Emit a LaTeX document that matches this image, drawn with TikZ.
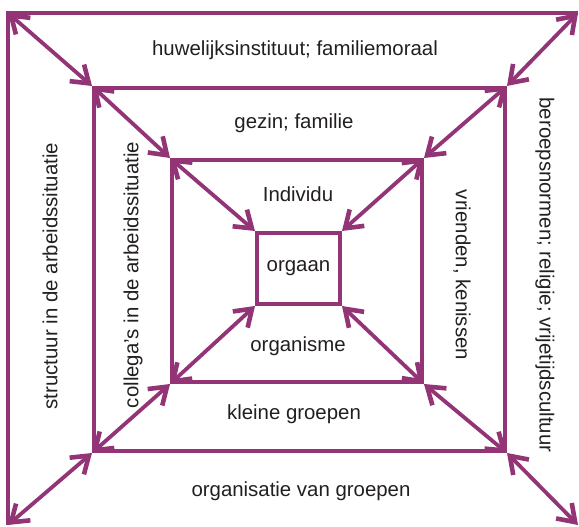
\documentclass[tikz,border=0pt]{standalone}
\usepackage{fontspec}
\setmainfont{Liberation Sans}
\usetikzlibrary{arrows.meta}

\definecolor{plum}{RGB}{146,52,118}
\definecolor{inkgray}{RGB}{35,31,32}

\begin{document}
\begin{tikzpicture}[
  x=1pt, y=1pt,
  every node/.style = {font=\fontsize{20.4}{24}\selectfont, text=inkgray},
  frame/.style      = {draw=plum, line width=4pt, inner sep=0pt},
  barb/.tip         = {Straight Barb[length=16pt,width=22pt,line width=4.6pt]},
  link/.style       = {plum, line width=3.8pt, barb-barb},
]

%% ── Canvas (1pt = 1px of the reference, origin bottom left) ─────────────────
\useasboundingbox (0,0) rectangle (579,527);

%% ── Outer frame (only left and top edge visible) ─────────────────────────────
\coordinate (otl) at (8,514);
\coordinate (otr) at (578,514);
\coordinate (obl) at (8,2);
\coordinate (obr) at (578,2);
\draw[plum, line width=4pt] (otr) -- (otl) -- (obl);

%% ── Nested frames ─────────────────────────────────────────────────────────────
\node[frame, minimum width=411pt, minimum height=363pt] (groep) at (299.5,257.5) {};
\node[frame, minimum width=250pt, minimum height=222pt] (indiv) at (297,256) {};
\node[frame, minimum width=83pt,  minimum height=71pt]  (orgaan) at (298.5,258.5) {orgaan};

%% ── Corner links (double arrows) ─────────────────────────────────────────────
\draw[link] (otl) -- (groep.north west);
\draw[link] (otr) -- (groep.north east);
\draw[link] (obl) -- (groep.south west);
\draw[link] (obr) -- (groep.south east);
\foreach \c in {north west, north east, south west, south east}{
  \draw[link] (groep.\c) -- (indiv.\c);
  \draw[link] (indiv.\c) -- (orgaan.\c);
}

%% ── Horizontal labels ────────────────────────────────────────────────────────
\node (huw)  at (295,477) {huwelijksinstituut; familiemoraal};
\node (gez)  at (294,404) {gezin; familie};
\node (ind)  at (298,333) {Individu};
\node (orgm) at (298,181) {organisme};
\node (kle)  at (294,113) {kleine groepen};
\node (orgv) at (301,36)  {organisatie van groepen};

%% ── Vertical labels ──────────────────────────────────────────────────────────
\node[rotate=90]  (struc) at (50,251)  {structuur in de arbeidssituatie};
\node[rotate=90]  (coll)  at (133,252) {collega's in de arbeidssituatie};
\node[rotate=-90] (vri)   at (462,252) {vrienden, kenissen};
\node[rotate=-90] (ber)   at (545,252) {beroepsnormen; religie; vrijetijdscultuur};

\end{tikzpicture}
\end{document}
